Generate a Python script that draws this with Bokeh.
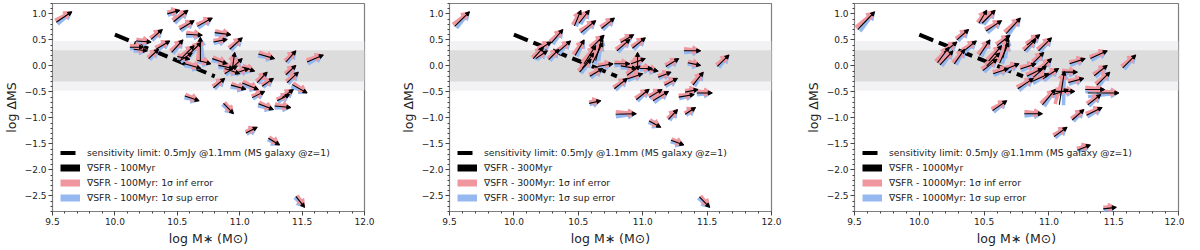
import math
from bokeh.plotting import figure
from bokeh.layouts import row
from bokeh.models import (ColumnDataSource, Arrow, NormalHead, BoxAnnotation, Legend, LegendItem,
                          SingleIntervalTicker, CustomJSTickFormatter, Range1d)
from bokeh.embed import file_html
from bokeh.resources import INLINE

# ---------------- data ----------------
timescales = ["100Myr", "300Myr", "1000Myr"]

# galaxy positions (arrow tips, shared by all panels)
gal_x = [9.655, 10.52, 10.585, 10.635, 10.78, 10.70, 10.685, 10.93, 10.90, 11.02,
         10.96, 10.29, 10.26, 10.35, 10.38, 10.44, 10.545, 10.635, 10.69, 10.62,
         10.69, 10.77, 10.90, 10.95, 11.02, 11.075, 11.12, 11.28, 11.45, 11.67,
         11.45, 11.47, 11.27, 11.22, 10.88, 11.15, 11.05, 11.43, 11.40, 11.54,
         11.20, 11.27, 11.41, 10.675, 10.95, 11.14, 11.32, 11.52, 10.60, 11.00,
         10.98, 10.23]
gal_y = [1.04, 1.07, 1.07, 0.87, 0.92, 0.59, 0.55, 0.60, 0.51, 0.54,
         0.26, 0.46, 0.29, 0.32, 0.70, 0.48, 0.50, 0.39, 0.45, 0.25,
         -0.05, 0.04, 0.04, -0.05, 0.14, -0.05, -0.10, 0.14, 0.29, 0.21,
         0.01, -0.12, -0.24, -0.12, -0.24, -0.455, -0.45, -0.455, -0.55, -0.52,
         -0.49, -0.84, -0.80, -0.67, -0.92, -1.18, -1.52, -2.72, 0.13, -0.15,
         0.00, 0.36]

# tail offsets (tail - tip) of the nominal gradient vector, per timescale
p1_dx = [-0.125, -0.10, -0.115, -0.115, -0.12, -0.13, 0.0, -0.13, -0.11, -0.10,
         -0.02, -0.12, -0.11, -0.08, -0.09, -0.11, -0.09, -0.105, -0.105, -0.10,
         -0.13, -0.11, -0.12, -0.12, -0.10, -0.11, -0.10, -0.13, -0.08, -0.13,
         -0.08, -0.09, -0.09, -0.08, -0.09, -0.13, -0.12, -0.09, -0.10, -0.12,
         -0.10, -0.12, -0.13, -0.115, -0.08, -0.09, -0.09, -0.07, -0.10, -0.12,
         -0.10, -0.11]
p1_dy = [-0.20, -0.07, -0.22, -0.17, -0.16, 0.02, -0.47, 0.04, -0.05, -0.22,
         -0.34, 0.02, 0.03, -0.18, -0.19, -0.16, -0.24, -0.25, -0.25, -0.15,
         0.09, 0.07, 0.10, 0.06, -0.22, -0.09, 0.08, 0.09, -0.215, -0.135,
         -0.18, -0.20, -0.15, -0.20, -0.18, 0.125, 0.08, -0.155, -0.12, 0.16,
         -0.12, 0.11, 0.03, 0.09, 0.20, -0.11, 0.13, 0.21, 0.05, 0.10,
         -0.15, 0.00]
p2_dx = [-0.115, -0.05, -0.08, -0.115, -0.10, -0.10, -0.05, -0.10, -0.10, -0.10,
         0.0, -0.10, -0.09, -0.08, -0.09, -0.10, -0.07, -0.09, -0.08, -0.09,
         -0.10, -0.12, -0.12, -0.12, -0.11, -0.10, -0.10, -0.10, -0.13, -0.09,
         -0.10, -0.08, -0.10, -0.10, -0.10, -0.10, -0.10, -0.10, -0.12, -0.12,
         -0.12, -0.07, -0.08, -0.09, -0.16, -0.09, -0.10, -0.08, -0.09, -0.12,
         -0.10, -0.08]
p2_dy = [-0.28, -0.30, -0.25, -0.23, -0.20, -0.25, -0.45, -0.15, -0.22, -0.20,
         -0.31, -0.15, -0.15, -0.20, -0.26, -0.22, -0.30, -0.35, -0.40, -0.30,
         -0.15, -0.05, 0.00, 0.05, -0.10, 0.00, 0.05, -0.15, 0.00, -0.22,
         0.05, -0.25, -0.13, -0.10, -0.20, -0.15, -0.20, -0.05, -0.05, 0.00,
         -0.18, -0.19, -0.13, -0.05, -0.01, 0.12, 0.09, 0.20, -0.25, -0.10,
         -0.18, -0.22]
p3_dx = [-0.13, -0.06, -0.10, -0.12, -0.11, -0.10, -0.04, -0.10, -0.09, -0.10,
         -0.08, -0.10, -0.10, -0.08, -0.09, -0.10, -0.08, -0.10, -0.07, -0.10,
         -0.12, -0.12, -0.12, -0.12, -0.10, -0.12, -0.04, -0.12, -0.13, -0.10,
         -0.10, -0.10, -0.12, -0.12, -0.12, -0.12, -0.10, -0.15, -0.10, -0.24,
         -0.15, -0.09, -0.12, -0.11, -0.14, -0.10, -0.10, -0.10, -0.11, -0.13,
         -0.10, -0.09]
p3_dy = [-0.34, -0.25, -0.25, -0.20, -0.30, -0.20, -0.40, -0.20, -0.22, -0.25,
         -0.20, -0.20, -0.27, -0.28, -0.20, -0.20, -0.30, -0.30, -0.40, -0.25,
         -0.10, -0.12, -0.10, -0.15, -0.25, -0.20, -0.65, -0.10, -0.15, -0.25,
         -0.20, -0.25, -0.08, 0.00, -0.20, -0.10, -0.30, 0.00, -0.20, 0.00,
         0.00, -0.20, -0.15, -0.19, 0.00, -0.18, -0.10, -0.03, -0.22, -0.15,
         -0.22, -0.30]

panel_dx = [p1_dx, p2_dx, p3_dx]
panel_dy = [p1_dy, p2_dy, p3_dy]

sens_x = [10.0, 10.8]
sens_y = [0.6, -0.2]
band_outer = [-0.48, 0.48]
band_inner = [-0.3, 0.3]

# ---------------- style ----------------
X_RANGE = (9.5, 12.0)
Y_RANGE = (-2.8, 1.2)
FIG_H = 248
FRAME_W = 322.0
FRAME_H = 212.0
ERR_ROT = math.radians(7)   # visual spread of the 1-sigma error arrows
PINK = "#F0969E"
BLUE = "#96B8F0"
FONT = "DejaVu Sans"
NAN = float("nan")

sx = FRAME_W / (X_RANGE[1] - X_RANGE[0])
sy = FRAME_H / (Y_RANGE[1] - Y_RANGE[0])


def rotated_tails(dx, dy, ang):
    xs, ys = [], []
    for gx, gy, a, b in zip(gal_x, gal_y, dx, dy):
        px, py = a * sx, b * sy
        rx = px * math.cos(ang) - py * math.sin(ang)
        ry = px * math.sin(ang) + py * math.cos(ang)
        xs.append(gx + rx / sx)
        ys.append(gy + ry / sy)
    return xs, ys


fmt = CustomJSTickFormatter(code="return tick.toFixed(1).replace('-', '\u2212');")


def make_panel(k, width, left, right):
    p = figure(width=width, height=FIG_H, x_range=Range1d(*X_RANGE), y_range=Range1d(*Y_RANGE),
               output_backend="svg", toolbar_location=None,
               min_border_left=left, min_border_right=right, min_border_top=3, min_border_bottom=28)
    p.grid.visible = False
    p.outline_line_color = "#7f7f7f"
    p.outline_line_width = 1.2
    p.background_fill_color = "white"

    p.add_layout(BoxAnnotation(bottom=band_outer[0], top=band_outer[1], fill_color="#F2F2F4",
                               fill_alpha=1, line_color=None, level="underlay"))
    p.add_layout(BoxAnnotation(bottom=band_inner[0], top=band_inner[1], fill_color="#DCDCDC",
                               fill_alpha=1, line_color=None, level="underlay"))

    r_sens = p.line(sens_x, sens_y, line_color="black", line_width=4, line_dash="15 6")

    dx, dy = panel_dx[k], panel_dy[k]
    bx, by = rotated_tails(dx, dy, ERR_ROT)
    px_, py_ = rotated_tails(dx, dy, -ERR_ROT)
    kx, ky = rotated_tails(dx, dy, 0.0)

    for xs, ys, col in ((bx, by, BLUE), (px_, py_, PINK)):
        src = ColumnDataSource(dict(xs=xs, ys=ys, xe=gal_x, ye=gal_y))
        p.add_layout(Arrow(x_start="xs", y_start="ys", x_end="xe", y_end="ye", source=src,
                           line_color=col, line_width=3.5,
                           end=NormalHead(size=8, fill_color=col, line_color=col, line_width=1)))
    src = ColumnDataSource(dict(xs=kx, ys=ky, xe=gal_x, ye=gal_y))
    p.add_layout(Arrow(x_start="xs", y_start="ys", x_end="xe", y_end="ye", source=src,
                       line_color="black", line_width=1.1,
                       end=NormalHead(size=4, fill_color="black", line_color="black", line_width=1)))

    # legend proxies (no visible data)
    r_k = p.line([NAN, NAN], [NAN, NAN], line_color="black", line_width=7)
    r_p = p.line([NAN, NAN], [NAN, NAN], line_color=PINK, line_width=7)
    r_b = p.line([NAN, NAN], [NAN, NAN], line_color=BLUE, line_width=7)
    ts = timescales[k]
    items = [
        LegendItem(label="sensitivity limit: 0.5mJy @1.1mm (MS galaxy @z=1)", renderers=[r_sens]),
        LegendItem(label="\u2207SFR - " + ts, renderers=[r_k]),
        LegendItem(label="\u2207SFR - " + ts + ": 1\u03c3 inf error", renderers=[r_p]),
        LegendItem(label="\u2207SFR - " + ts + ": 1\u03c3 sup error", renderers=[r_b]),
    ]
    leg = Legend(items=items, location="bottom_left", margin=2, padding=6, spacing=4,
                 glyph_width=20, glyph_height=11, label_height=11, label_standoff=7,
                 label_text_font=FONT, label_text_font_size="9.3px", label_text_color="#222222",
                 background_fill_alpha=0, border_line_alpha=0)
    p.add_layout(leg)

    for ax in (p.xaxis[0], p.yaxis[0]):
        ax.ticker = SingleIntervalTicker(interval=0.5, num_minor_ticks=5)
        ax.formatter = fmt
        ax.major_label_text_font = FONT
        ax.major_label_text_font_size = "9px"
        ax.major_label_text_color = "#222222"
        ax.axis_label_text_font = FONT
        ax.axis_label_text_font_size = "12.5px"
        ax.axis_label_text_font_style = "normal"
        ax.axis_label_text_color = "#222222"
        ax.axis_line_color = "#7f7f7f"
        ax.major_tick_line_color = "#444444"
        ax.minor_tick_line_color = "#444444"
        ax.major_tick_in = 0
        ax.major_tick_out = 4
        ax.minor_tick_in = 0
        ax.minor_tick_out = 2
        ax.major_label_standoff = 2
        ax.axis_label_standoff = 3
    p.xaxis[0].axis_label = "log M\u2217 (M\u2299)"
    p.yaxis[0].axis_label = "log \u0394MS"
    return p


p1 = make_panel(0, 392, 42, 28)
p2 = make_panel(1, 400, 57, 21)
p3 = make_panel(2, 392, 62, 6)
layout = row(p1, p2, p3)

open("out.html", "w").write(file_html(layout, INLINE))
